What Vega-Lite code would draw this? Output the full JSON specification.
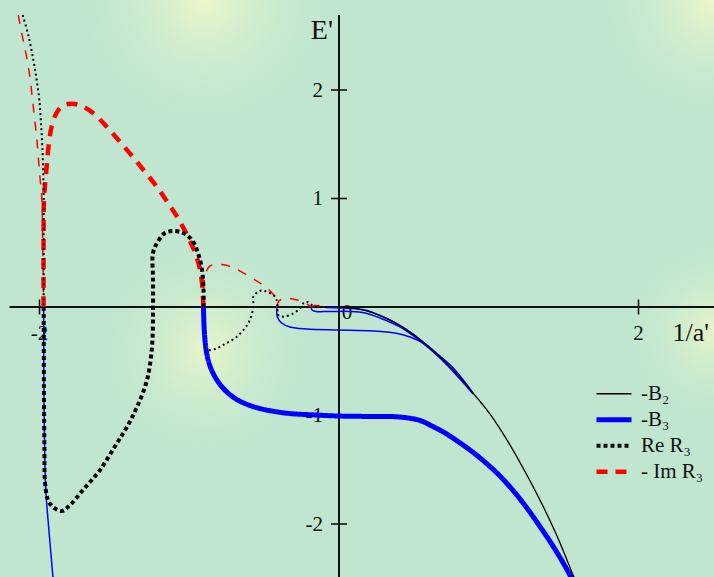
{
  "$schema": "https://vega.github.io/schema/vega-lite/v6.json",
  "width": 714,
  "height": 577,
  "autosize": {"type": "none"},
  "padding": 0,
  "background": "#c0e6cf",
  "config": {
    "view": {"stroke": null},
    "text": {"font": "Liberation Serif", "color": "#111111"},
    "legend": {
      "padding": 0,
      "symbolType": "stroke",
      "symbolSize": 1225,
      "clipHeight": 23.5,
      "rowPadding": 2,
      "labelFont": "Liberation Serif",
      "labelFontSize": 21,
      "labelColor": "#111111",
      "labelOffset": 7,
      "labelBaseline": "middle"
    }
  },
  "datasets": {
    "curves": [
      {"series": "-B₂", "branch": "primary", "x": 0, "y": 0},
      {"series": "-B₂", "branch": "primary", "x": 0.073, "y": -0.007},
      {"series": "-B₂", "branch": "primary", "x": 0.16, "y": -0.028},
      {"series": "-B₂", "branch": "primary", "x": 0.227, "y": -0.055},
      {"series": "-B₂", "branch": "primary", "x": 0.341, "y": -0.12},
      {"series": "-B₂", "branch": "primary", "x": 0.454, "y": -0.212},
      {"series": "-B₂", "branch": "primary", "x": 0.561, "y": -0.323},
      {"series": "-B₂", "branch": "primary", "x": 0.674, "y": -0.461},
      {"series": "-B₂", "branch": "primary", "x": 0.788, "y": -0.618},
      {"series": "-B₂", "branch": "primary", "x": 0.895, "y": -0.793},
      {"series": "-B₂", "branch": "primary", "x": 1.008, "y": -0.986},
      {"series": "-B₂", "branch": "primary", "x": 1.122, "y": -1.226},
      {"series": "-B₂", "branch": "primary", "x": 1.229, "y": -1.484},
      {"series": "-B₂", "branch": "primary", "x": 1.342, "y": -1.779},
      {"series": "-B₂", "branch": "primary", "x": 1.456, "y": -2.111},
      {"series": "-B₂", "branch": "primary", "x": 1.563, "y": -2.47},
      {"series": "-B₂", "branch": "primary", "x": 1.583, "y": -2.535},

      {"series": "-B₃", "branch": "primary", "x": -0.905, "y": 0},
      {"series": "-B₃", "branch": "primary", "x": -0.9015, "y": -0.166},
      {"series": "-B₃", "branch": "primary", "x": -0.895, "y": -0.304},
      {"series": "-B₃", "branch": "primary", "x": -0.885, "y": -0.415},
      {"series": "-B₃", "branch": "primary", "x": -0.868, "y": -0.516},
      {"series": "-B₃", "branch": "primary", "x": -0.845, "y": -0.599},
      {"series": "-B₃", "branch": "primary", "x": -0.815, "y": -0.673},
      {"series": "-B₃", "branch": "primary", "x": -0.781, "y": -0.737},
      {"series": "-B₃", "branch": "primary", "x": -0.741, "y": -0.793},
      {"series": "-B₃", "branch": "primary", "x": -0.688, "y": -0.848},
      {"series": "-B₃", "branch": "primary", "x": -0.621, "y": -0.894},
      {"series": "-B₃", "branch": "primary", "x": -0.541, "y": -0.931},
      {"series": "-B₃", "branch": "primary", "x": -0.447, "y": -0.959},
      {"series": "-B₃", "branch": "primary", "x": -0.327, "y": -0.982},
      {"series": "-B₃", "branch": "primary", "x": -0.16, "y": -0.995},
      {"series": "-B₃", "branch": "primary", "x": 0, "y": -1.005},
      {"series": "-B₃", "branch": "primary", "x": 0.207, "y": -1.009},
      {"series": "-B₃", "branch": "primary", "x": 0.407, "y": -1.014},
      {"series": "-B₃", "branch": "primary", "x": 0.541, "y": -1.046},
      {"series": "-B₃", "branch": "primary", "x": 0.621, "y": -1.097},
      {"series": "-B₃", "branch": "primary", "x": 0.708, "y": -1.161},
      {"series": "-B₃", "branch": "primary", "x": 0.795, "y": -1.24},
      {"series": "-B₃", "branch": "primary", "x": 0.888, "y": -1.332},
      {"series": "-B₃", "branch": "primary", "x": 0.982, "y": -1.438},
      {"series": "-B₃", "branch": "primary", "x": 1.075, "y": -1.558},
      {"series": "-B₃", "branch": "primary", "x": 1.168, "y": -1.7},
      {"series": "-B₃", "branch": "primary", "x": 1.255, "y": -1.853},
      {"series": "-B₃", "branch": "primary", "x": 1.342, "y": -2.023},
      {"series": "-B₃", "branch": "primary", "x": 1.429, "y": -2.203},
      {"series": "-B₃", "branch": "primary", "x": 1.509, "y": -2.387},
      {"series": "-B₃", "branch": "primary", "x": 1.556, "y": -2.507},

      {"series": "-B₃", "branch": "s1", "x": -1.972, "y": 0},
      {"series": "-B₃", "branch": "s1", "x": -1.97, "y": -0.857},
      {"series": "-B₃", "branch": "s1", "x": -1.963, "y": -1.502},
      {"series": "-B₃", "branch": "s1", "x": -1.957, "y": -1.714},
      {"series": "-B₃", "branch": "s1", "x": -1.943, "y": -1.963},
      {"series": "-B₃", "branch": "s1", "x": -1.927, "y": -2.221},
      {"series": "-B₃", "branch": "s1", "x": -1.91, "y": -2.488},
      {"series": "-B₃", "branch": "s1", "x": -1.903, "y": -2.562},

      {"series": "-B₃", "branch": "s2", "x": -0.414, "y": 0},
      {"series": "-B₃", "branch": "s2", "x": -0.412, "y": -0.089},
      {"series": "-B₃", "branch": "s2", "x": -0.383, "y": -0.147},
      {"series": "-B₃", "branch": "s2", "x": -0.327, "y": -0.184},
      {"series": "-B₃", "branch": "s2", "x": -0.216, "y": -0.203},
      {"series": "-B₃", "branch": "s2", "x": 0, "y": -0.212},
      {"series": "-B₃", "branch": "s2", "x": 0.227, "y": -0.221},
      {"series": "-B₃", "branch": "s2", "x": 0.374, "y": -0.24},
      {"series": "-B₃", "branch": "s2", "x": 0.474, "y": -0.276},
      {"series": "-B₃", "branch": "s2", "x": 0.574, "y": -0.341},
      {"series": "-B₃", "branch": "s2", "x": 0.674, "y": -0.452},
      {"series": "-B₃", "branch": "s2", "x": 0.775, "y": -0.581},
      {"series": "-B₃", "branch": "s2", "x": 0.895, "y": -0.793},

      {"series": "-B₃", "branch": "s3", "x": -0.187, "y": 0},
      {"series": "-B₃", "branch": "s3", "x": -0.18, "y": -0.028},
      {"series": "-B₃", "branch": "s3", "x": -0.154, "y": -0.041},
      {"series": "-B₃", "branch": "s3", "x": -0.06, "y": -0.041},
      {"series": "-B₃", "branch": "s3", "x": 0.073, "y": -0.041},
      {"series": "-B₃", "branch": "s3", "x": 0.174, "y": -0.055},
      {"series": "-B₃", "branch": "s3", "x": 0.274, "y": -0.101},
      {"series": "-B₃", "branch": "s3", "x": 0.407, "y": -0.184},
      {"series": "-B₃", "branch": "s3", "x": 0.541, "y": -0.313},
      {"series": "-B₃", "branch": "s3", "x": 0.674, "y": -0.47},
      {"series": "-B₃", "branch": "s3", "x": 0.808, "y": -0.664},
      {"series": "-B₃", "branch": "s3", "x": 0.895, "y": -0.802},

      {"series": "-B₃", "branch": "s4", "x": -0.087, "y": -0.005},
      {"series": "-B₃", "branch": "s4", "x": 0.007, "y": -0.009},
      {"series": "-B₃", "branch": "s4", "x": 0.107, "y": -0.016},
      {"series": "-B₃", "branch": "s4", "x": 0.187, "y": -0.032},
      {"series": "-B₃", "branch": "s4", "x": 0.274, "y": -0.078},
      {"series": "-B₃", "branch": "s4", "x": 0.407, "y": -0.17},
      {"series": "-B₃", "branch": "s4", "x": 0.541, "y": -0.3},
      {"series": "-B₃", "branch": "s4", "x": 0.674, "y": -0.461},

      {"series": "Re R₃", "branch": "primary", "x": -1.972, "y": 0},
      {"series": "Re R₃", "branch": "primary", "x": -1.97, "y": -0.857},
      {"series": "Re R₃", "branch": "primary", "x": -1.967, "y": -1.318},
      {"series": "Re R₃", "branch": "primary", "x": -1.963, "y": -1.622},
      {"series": "Re R₃", "branch": "primary", "x": -1.943, "y": -1.779},
      {"series": "Re R₃", "branch": "primary", "x": -1.91, "y": -1.843},
      {"series": "Re R₃", "branch": "primary", "x": -1.85, "y": -1.88},
      {"series": "Re R₃", "branch": "primary", "x": -1.796, "y": -1.825},
      {"series": "Re R₃", "branch": "primary", "x": -1.71, "y": -1.687},
      {"series": "Re R₃", "branch": "primary", "x": -1.596, "y": -1.502},
      {"series": "Re R₃", "branch": "primary", "x": -1.482, "y": -1.253},
      {"series": "Re R₃", "branch": "primary", "x": -1.416, "y": -1.106},
      {"series": "Re R₃", "branch": "primary", "x": -1.349, "y": -0.922},
      {"series": "Re R₃", "branch": "primary", "x": -1.282, "y": -0.673},
      {"series": "Re R₃", "branch": "primary", "x": -1.249, "y": -0.369},
      {"series": "Re R₃", "branch": "primary", "x": -1.242, "y": -0.055},
      {"series": "Re R₃", "branch": "primary", "x": -1.242, "y": 0.249},
      {"series": "Re R₃", "branch": "primary", "x": -1.242, "y": 0.498},
      {"series": "Re R₃", "branch": "primary", "x": -1.215, "y": 0.59},
      {"series": "Re R₃", "branch": "primary", "x": -1.162, "y": 0.682},
      {"series": "Re R₃", "branch": "primary", "x": -1.109, "y": 0.7},
      {"series": "Re R₃", "branch": "primary", "x": -1.042, "y": 0.682},
      {"series": "Re R₃", "branch": "primary", "x": -0.982, "y": 0.618},
      {"series": "Re R₃", "branch": "primary", "x": -0.942, "y": 0.498},
      {"series": "Re R₃", "branch": "primary", "x": -0.915, "y": 0.341},
      {"series": "Re R₃", "branch": "primary", "x": -0.905, "y": 0.157},
      {"series": "Re R₃", "branch": "primary", "x": -0.905, "y": 0},

      {"series": "Re R₃", "branch": "s1", "x": -2.112, "y": 2.691},
      {"series": "Re R₃", "branch": "s1", "x": -2.075, "y": 2.507},
      {"series": "Re R₃", "branch": "s1", "x": -2.041, "y": 2.276},
      {"series": "Re R₃", "branch": "s1", "x": -2.019, "y": 2.092},
      {"series": "Re R₃", "branch": "s1", "x": -2.001, "y": 1.908},
      {"series": "Re R₃", "branch": "s1", "x": -1.99, "y": 1.696},
      {"series": "Re R₃", "branch": "s1", "x": -1.981, "y": 1.475},
      {"series": "Re R₃", "branch": "s1", "x": -1.975, "y": 1.235},
      {"series": "Re R₃", "branch": "s1", "x": -1.972, "y": 1.014},
      {"series": "Re R₃", "branch": "s1", "x": -1.972, "y": 0.525},
      {"series": "Re R₃", "branch": "s1", "x": -1.972, "y": 0},

      {"series": "Re R₃", "branch": "s2", "x": -0.895, "y": -0.369},
      {"series": "Re R₃", "branch": "s2", "x": -0.873, "y": -0.396},
      {"series": "Re R₃", "branch": "s2", "x": -0.828, "y": -0.387},
      {"series": "Re R₃", "branch": "s2", "x": -0.773, "y": -0.35},
      {"series": "Re R₃", "branch": "s2", "x": -0.683, "y": -0.274},
      {"series": "Re R₃", "branch": "s2", "x": -0.606, "y": -0.15},
      {"series": "Re R₃", "branch": "s2", "x": -0.572, "y": 0.003},
      {"series": "Re R₃", "branch": "s2", "x": -0.572, "y": 0.095},
      {"series": "Re R₃", "branch": "s2", "x": -0.539, "y": 0.141},
      {"series": "Re R₃", "branch": "s2", "x": -0.514, "y": 0.152},
      {"series": "Re R₃", "branch": "s2", "x": -0.483, "y": 0.141},
      {"series": "Re R₃", "branch": "s2", "x": -0.427, "y": 0.095},
      {"series": "Re R₃", "branch": "s2", "x": -0.412, "y": 0.034},
      {"series": "Re R₃", "branch": "s2", "x": -0.405, "y": -0.074},
      {"series": "Re R₃", "branch": "s2", "x": -0.372, "y": -0.089},
      {"series": "Re R₃", "branch": "s2", "x": -0.305, "y": -0.058},
      {"series": "Re R₃", "branch": "s2", "x": -0.26, "y": -0.012},
      {"series": "Re R₃", "branch": "s2", "x": -0.238, "y": 0.034},
      {"series": "Re R₃", "branch": "s2", "x": -0.216, "y": 0.049},
      {"series": "Re R₃", "branch": "s2", "x": -0.182, "y": 0.018},
      {"series": "Re R₃", "branch": "s2", "x": -0.154, "y": 0},
      {"series": "Re R₃", "branch": "s2", "x": -0.107, "y": 0},
      {"series": "Re R₃", "branch": "s2", "x": -0.067, "y": 0},

      {"series": "- Im R₃", "branch": "primary", "x": -1.973, "y": 0},
      {"series": "- Im R₃", "branch": "primary", "x": -1.973, "y": 0.525},
      {"series": "- Im R₃", "branch": "primary", "x": -1.97, "y": 0.986},
      {"series": "- Im R₃", "branch": "primary", "x": -1.96, "y": 1.171},
      {"series": "- Im R₃", "branch": "primary", "x": -1.95, "y": 1.327},
      {"series": "- Im R₃", "branch": "primary", "x": -1.937, "y": 1.512},
      {"series": "- Im R₃", "branch": "primary", "x": -1.917, "y": 1.677},
      {"series": "- Im R₃", "branch": "primary", "x": -1.89, "y": 1.779},
      {"series": "- Im R₃", "branch": "primary", "x": -1.856, "y": 1.843},
      {"series": "- Im R₃", "branch": "primary", "x": -1.81, "y": 1.871},
      {"series": "- Im R₃", "branch": "primary", "x": -1.763, "y": 1.871},
      {"series": "- Im R₃", "branch": "primary", "x": -1.703, "y": 1.843},
      {"series": "- Im R₃", "branch": "primary", "x": -1.643, "y": 1.788},
      {"series": "- Im R₃", "branch": "primary", "x": -1.549, "y": 1.659},
      {"series": "- Im R₃", "branch": "primary", "x": -1.462, "y": 1.521},
      {"series": "- Im R₃", "branch": "primary", "x": -1.376, "y": 1.382},
      {"series": "- Im R₃", "branch": "primary", "x": -1.295, "y": 1.244},
      {"series": "- Im R₃", "branch": "primary", "x": -1.215, "y": 1.106},
      {"series": "- Im R₃", "branch": "primary", "x": -1.142, "y": 0.959},
      {"series": "- Im R₃", "branch": "primary", "x": -1.068, "y": 0.802},
      {"series": "- Im R₃", "branch": "primary", "x": -1.008, "y": 0.645},
      {"series": "- Im R₃", "branch": "primary", "x": -0.968, "y": 0.525},
      {"series": "- Im R₃", "branch": "primary", "x": -0.935, "y": 0.387},
      {"series": "- Im R₃", "branch": "primary", "x": -0.915, "y": 0.221},
      {"series": "- Im R₃", "branch": "primary", "x": -0.905, "y": 0},

      {"series": "- Im R₃", "branch": "s1", "x": -2.142, "y": 2.691},
      {"series": "- Im R₃", "branch": "s1", "x": -2.112, "y": 2.479},
      {"series": "- Im R₃", "branch": "s1", "x": -2.085, "y": 2.295},
      {"series": "- Im R₃", "branch": "s1", "x": -2.063, "y": 2.111},
      {"series": "- Im R₃", "branch": "s1", "x": -2.048, "y": 1.926},
      {"series": "- Im R₃", "branch": "s1", "x": -2.034, "y": 1.751},
      {"series": "- Im R₃", "branch": "s1", "x": -2.019, "y": 1.567},
      {"series": "- Im R₃", "branch": "s1", "x": -2.008, "y": 1.382},
      {"series": "- Im R₃", "branch": "s1", "x": -1.997, "y": 1.198},
      {"series": "- Im R₃", "branch": "s1", "x": -1.985, "y": 1.014},
      {"series": "- Im R₃", "branch": "s1", "x": -1.979, "y": 0.618},
      {"series": "- Im R₃", "branch": "s1", "x": -1.973, "y": 0},

      {"series": "- Im R₃", "branch": "s2", "x": -0.905, "y": 0},
      {"series": "- Im R₃", "branch": "s2", "x": -0.902, "y": 0.203},
      {"series": "- Im R₃", "branch": "s2", "x": -0.888, "y": 0.323},
      {"series": "- Im R₃", "branch": "s2", "x": -0.861, "y": 0.378},
      {"series": "- Im R₃", "branch": "s2", "x": -0.815, "y": 0.392},
      {"series": "- Im R₃", "branch": "s2", "x": -0.761, "y": 0.387},
      {"series": "- Im R₃", "branch": "s2", "x": -0.694, "y": 0.355},
      {"series": "- Im R₃", "branch": "s2", "x": -0.594, "y": 0.276},
      {"series": "- Im R₃", "branch": "s2", "x": -0.508, "y": 0.203},
      {"series": "- Im R₃", "branch": "s2", "x": -0.447, "y": 0.129},
      {"series": "- Im R₃", "branch": "s2", "x": -0.421, "y": 0.074},
      {"series": "- Im R₃", "branch": "s2", "x": -0.414, "y": 0},

      {"series": "- Im R₃", "branch": "s3", "x": -0.414, "y": 0},
      {"series": "- Im R₃", "branch": "s3", "x": -0.401, "y": 0.055},
      {"series": "- Im R₃", "branch": "s3", "x": -0.367, "y": 0.078},
      {"series": "- Im R₃", "branch": "s3", "x": -0.327, "y": 0.078},
      {"series": "- Im R₃", "branch": "s3", "x": -0.28, "y": 0.065},
      {"series": "- Im R₃", "branch": "s3", "x": -0.227, "y": 0.041},
      {"series": "- Im R₃", "branch": "s3", "x": -0.187, "y": 0},

      {"series": "- Im R₃", "branch": "s4", "x": -0.187, "y": 0},
      {"series": "- Im R₃", "branch": "s4", "x": -0.16, "y": 0.014},
      {"series": "- Im R₃", "branch": "s4", "x": -0.127, "y": 0.012},
      {"series": "- Im R₃", "branch": "s4", "x": -0.093, "y": 0}
    ],
    "xticks": [
      {"v": -2, "label": "-2"},
      {"v": 2, "label": "2"}
    ],
    "yticks": [
      {"v": 2, "label": "2"},
      {"v": 1, "label": "1"},
      {"v": -1, "label": "-1"},
      {"v": -2, "label": "-2"}
    ]
  },
  "layer": [
    {
      "data": {"values": [{}]},
      "mark": {"type": "rect", "clip": true, "fill": {"gradient": "radial", "x1": 0.5, "y1": 0.5, "r1": 0, "x2": 0.5, "y2": 0.5, "r2": 0.5, "stops": [{"offset": 0, "color": "#ecf7cb"}, {"offset": 1, "color": "rgba(192,230,207,0)"}]}},
      "encoding": {
        "x": {"datum": -1.83, "type": "quantitative", "scale": {"domain": [-2.2638, 2.5042], "nice": false, "zero": false}, "axis": null},
        "x2": {"datum": 0.04},
        "y": {"datum": 4.12, "type": "quantitative", "scale": {"domain": [-2.4885, 2.8295], "nice": false, "zero": false}, "axis": null},
        "y2": {"datum": 1.539}
      }
    },
    {
      "data": {"values": [{}]},
      "mark": {"type": "rect", "clip": true, "fill": {"gradient": "radial", "x1": 0.5, "y1": 0.5, "r1": 0, "x2": 0.5, "y2": 0.5, "r2": 0.5, "stops": [{"offset": 0, "color": "#e6f5ca"}, {"offset": 1, "color": "rgba(192,230,207,0)"}]}},
      "encoding": {
        "x": {"datum": -1.696, "type": "quantitative", "axis": null},
        "x2": {"datum": -0.093},
        "y": {"datum": 0.71, "type": "quantitative", "axis": null},
        "y2": {"datum": -1.502}
      }
    },
    {
      "data": {"values": [{}]},
      "mark": {"type": "rect", "clip": true, "fill": {"gradient": "radial", "x1": 0.5, "y1": 0.5, "r1": 0, "x2": 0.5, "y2": 0.5, "r2": 0.5, "stops": [{"offset": 0, "color": "#ecf7cb"}, {"offset": 1, "color": "rgba(192,230,207,0)"}]}},
      "encoding": {
        "x": {"datum": 1.636, "type": "quantitative", "axis": null},
        "x2": {"datum": 3.372},
        "y": {"datum": 4.03, "type": "quantitative", "axis": null},
        "y2": {"datum": 1.631}
      }
    },
    {
      "data": {"values": [{}]},
      "mark": {"type": "rect", "clip": true, "fill": {"gradient": "radial", "x1": 0.5, "y1": 0.5, "r1": 0, "x2": 0.5, "y2": 0.5, "r2": 0.5, "stops": [{"offset": 0, "color": "#e6f5ca"}, {"offset": 1, "color": "rgba(192,230,207,0)"}]}},
      "encoding": {
        "x": {"datum": 1.836, "type": "quantitative", "axis": null},
        "x2": {"datum": 3.172},
        "y": {"datum": 0.71, "type": "quantitative", "axis": null},
        "y2": {"datum": -1.134}
      }
    },
    {
      "data": {"values": [{}]},
      "mark": {"type": "rule", "color": "#111111", "strokeWidth": 2},
      "encoding": {
        "x": {"datum": -2.2, "type": "quantitative", "axis": null},
        "x2": {"datum": 2.6},
        "y": {"datum": 0, "type": "quantitative", "axis": null}
      }
    },
    {
      "data": {"values": [{}]},
      "mark": {"type": "rule", "color": "#111111", "strokeWidth": 2},
      "encoding": {
        "x": {"datum": 0, "type": "quantitative", "axis": null},
        "y": {"datum": 2.691, "type": "quantitative", "axis": null},
        "y2": {"datum": -2.6}
      }
    },
    {
      "data": {"name": "yticks"},
      "mark": {"type": "tick", "orient": "horizontal", "size": 16, "thickness": 1.6, "color": "#111111", "opacity": 1},
      "encoding": {
        "x": {"datum": 0, "type": "quantitative", "axis": null},
        "y": {"field": "v", "type": "quantitative", "axis": null}
      }
    },
    {
      "data": {"name": "xticks"},
      "mark": {"type": "tick", "orient": "vertical", "size": 15, "thickness": 1.6, "color": "#111111", "opacity": 1},
      "encoding": {
        "x": {"field": "v", "type": "quantitative", "axis": null},
        "y": {"datum": 0, "type": "quantitative", "axis": null}
      }
    },
    {
      "data": {"name": "yticks"},
      "mark": {"type": "text", "align": "right", "baseline": "alphabetic", "dx": -16, "dy": 7, "fontSize": 21},
      "encoding": {
        "x": {"datum": 0, "type": "quantitative", "axis": null},
        "y": {"field": "v", "type": "quantitative", "axis": null},
        "text": {"field": "label"}
      }
    },
    {
      "data": {"name": "xticks"},
      "mark": {"type": "text", "align": "center", "baseline": "alphabetic", "dy": 33, "fontSize": 21},
      "encoding": {
        "x": {"field": "v", "type": "quantitative", "axis": null},
        "y": {"datum": 0, "type": "quantitative", "axis": null},
        "text": {"field": "label"}
      }
    },
    {
      "data": {"values": [{}]},
      "mark": {"type": "text", "align": "center", "baseline": "alphabetic", "dx": 8, "dy": 12, "fontSize": 21},
      "encoding": {
        "x": {"datum": 0, "type": "quantitative", "axis": null},
        "y": {"datum": 0, "type": "quantitative", "axis": null},
        "text": {"value": "0"}
      }
    },
    {
      "data": {"values": [{}]},
      "mark": {"type": "text", "align": "right", "baseline": "alphabetic", "dx": -6, "fontSize": 28},
      "encoding": {
        "x": {"datum": 0, "type": "quantitative", "axis": null},
        "y": {"datum": 2.47, "type": "quantitative", "axis": null},
        "text": {"value": "E'"}
      }
    },
    {
      "data": {"values": [{}]},
      "mark": {"type": "text", "align": "left", "baseline": "alphabetic", "dx": 34, "dy": 34, "fontSize": 26},
      "encoding": {
        "x": {"datum": 2, "type": "quantitative", "axis": null},
        "y": {"datum": 0, "type": "quantitative", "axis": null},
        "text": {"value": "1/a'"}
      }
    },
    {
      "data": {"name": "curves"},
      "transform": [{"filter": "datum.series === '-B₃' && datum.branch !== 'primary'"}],
      "mark": {"type": "line", "color": "#0000ff", "strokeWidth": 1.5, "interpolate": "catmull-rom"},
      "encoding": {
        "x": {"field": "x", "type": "quantitative", "axis": null},
        "y": {"field": "y", "type": "quantitative", "axis": null},
        "detail": {"field": "branch"},
        "order": {"value": null}
      }
    },
    {
      "data": {"name": "curves"},
      "transform": [{"filter": "datum.series === '-B₃' && datum.branch === 'primary'"}],
      "mark": {"type": "line", "interpolate": "catmull-rom", "strokeCap": "butt"},
      "encoding": {
        "x": {"field": "x", "type": "quantitative", "axis": null},
        "y": {"field": "y", "type": "quantitative", "axis": null},
        "color": {"field": "series", "type": "nominal", "scale": {"domain": ["-B₂", "-B₃", "Re R₃", "- Im R₃"], "range": ["#000000", "#0000ff", "#000000", "#ff0000"]}, "legend": {"title": null, "orient": "none", "legendX": 594, "legendY": 382}},
        "strokeDash": {"field": "series", "type": "nominal", "scale": {"domain": ["-B₂", "-B₃", "Re R₃", "- Im R₃"], "range": [[1, 0], [1, 0], [4, 3], [11, 8]]}, "legend": {"title": null, "orient": "none", "legendX": 594, "legendY": 382}},
        "strokeWidth": {"field": "series", "type": "nominal", "scale": {"type": "ordinal", "domain": ["-B₂", "-B₃", "Re R₃", "- Im R₃"], "range": [1.3, 5, 4, 4.5]}, "legend": {"title": null, "orient": "none", "legendX": 594, "legendY": 382}},
        "order": {"value": null}
      }
    },
    {
      "data": {"name": "curves"},
      "transform": [{"filter": "datum.series === '- Im R₃' && datum.branch !== 'primary'"}],
      "mark": {"type": "line", "color": "#ff0000", "strokeWidth": 1.5, "strokeDash": [9, 9], "interpolate": "catmull-rom"},
      "encoding": {
        "x": {"field": "x", "type": "quantitative", "axis": null},
        "y": {"field": "y", "type": "quantitative", "axis": null},
        "detail": {"field": "branch"},
        "order": {"value": null}
      }
    },
    {
      "data": {"name": "curves"},
      "transform": [{"filter": "datum.series === '- Im R₃' && datum.branch === 'primary'"}],
      "mark": {"type": "line", "interpolate": "catmull-rom", "strokeCap": "butt"},
      "encoding": {
        "x": {"field": "x", "type": "quantitative", "axis": null},
        "y": {"field": "y", "type": "quantitative", "axis": null},
        "color": {"field": "series", "type": "nominal", "scale": {"domain": ["-B₂", "-B₃", "Re R₃", "- Im R₃"], "range": ["#000000", "#0000ff", "#000000", "#ff0000"]}, "legend": {"title": null, "orient": "none", "legendX": 594, "legendY": 382}},
        "strokeDash": {"field": "series", "type": "nominal", "scale": {"domain": ["-B₂", "-B₃", "Re R₃", "- Im R₃"], "range": [[1, 0], [1, 0], [4, 3], [11, 8]]}, "legend": {"title": null, "orient": "none", "legendX": 594, "legendY": 382}},
        "strokeWidth": {"field": "series", "type": "nominal", "scale": {"type": "ordinal", "domain": ["-B₂", "-B₃", "Re R₃", "- Im R₃"], "range": [1.3, 5, 4, 4.5]}, "legend": {"title": null, "orient": "none", "legendX": 594, "legendY": 382}},
        "order": {"value": null}
      }
    },
    {
      "data": {"name": "curves"},
      "transform": [{"filter": "datum.series === 'Re R₃' && datum.branch !== 'primary'"}],
      "mark": {"type": "line", "color": "#000000", "strokeWidth": 2, "strokeDash": [2, 3], "interpolate": "catmull-rom"},
      "encoding": {
        "x": {"field": "x", "type": "quantitative", "axis": null},
        "y": {"field": "y", "type": "quantitative", "axis": null},
        "detail": {"field": "branch"},
        "order": {"value": null}
      }
    },
    {
      "data": {"name": "curves"},
      "transform": [{"filter": "datum.series === 'Re R₃' && datum.branch === 'primary'"}],
      "mark": {"type": "line", "interpolate": "catmull-rom", "strokeCap": "butt"},
      "encoding": {
        "x": {"field": "x", "type": "quantitative", "axis": null},
        "y": {"field": "y", "type": "quantitative", "axis": null},
        "color": {"field": "series", "type": "nominal", "scale": {"domain": ["-B₂", "-B₃", "Re R₃", "- Im R₃"], "range": ["#000000", "#0000ff", "#000000", "#ff0000"]}, "legend": {"title": null, "orient": "none", "legendX": 594, "legendY": 382}},
        "strokeDash": {"field": "series", "type": "nominal", "scale": {"domain": ["-B₂", "-B₃", "Re R₃", "- Im R₃"], "range": [[1, 0], [1, 0], [4, 3], [11, 8]]}, "legend": {"title": null, "orient": "none", "legendX": 594, "legendY": 382}},
        "strokeWidth": {"field": "series", "type": "nominal", "scale": {"type": "ordinal", "domain": ["-B₂", "-B₃", "Re R₃", "- Im R₃"], "range": [1.3, 5, 4, 4.5]}, "legend": {"title": null, "orient": "none", "legendX": 594, "legendY": 382}},
        "order": {"value": null}
      }
    },
    {
      "data": {"name": "curves"},
      "transform": [{"filter": "datum.series === '-B₂'"}],
      "mark": {"type": "line", "interpolate": "catmull-rom", "strokeCap": "butt"},
      "encoding": {
        "x": {"field": "x", "type": "quantitative", "axis": null},
        "y": {"field": "y", "type": "quantitative", "axis": null},
        "color": {"field": "series", "type": "nominal", "scale": {"domain": ["-B₂", "-B₃", "Re R₃", "- Im R₃"], "range": ["#000000", "#0000ff", "#000000", "#ff0000"]}, "legend": {"title": null, "orient": "none", "legendX": 594, "legendY": 382}},
        "strokeDash": {"field": "series", "type": "nominal", "scale": {"domain": ["-B₂", "-B₃", "Re R₃", "- Im R₃"], "range": [[1, 0], [1, 0], [4, 3], [11, 8]]}, "legend": {"title": null, "orient": "none", "legendX": 594, "legendY": 382}},
        "strokeWidth": {"field": "series", "type": "nominal", "scale": {"type": "ordinal", "domain": ["-B₂", "-B₃", "Re R₃", "- Im R₃"], "range": [1.3, 5, 4, 4.5]}, "legend": {"title": null, "orient": "none", "legendX": 594, "legendY": 382}},
        "order": {"value": null}
      }
    }
  ]
}
